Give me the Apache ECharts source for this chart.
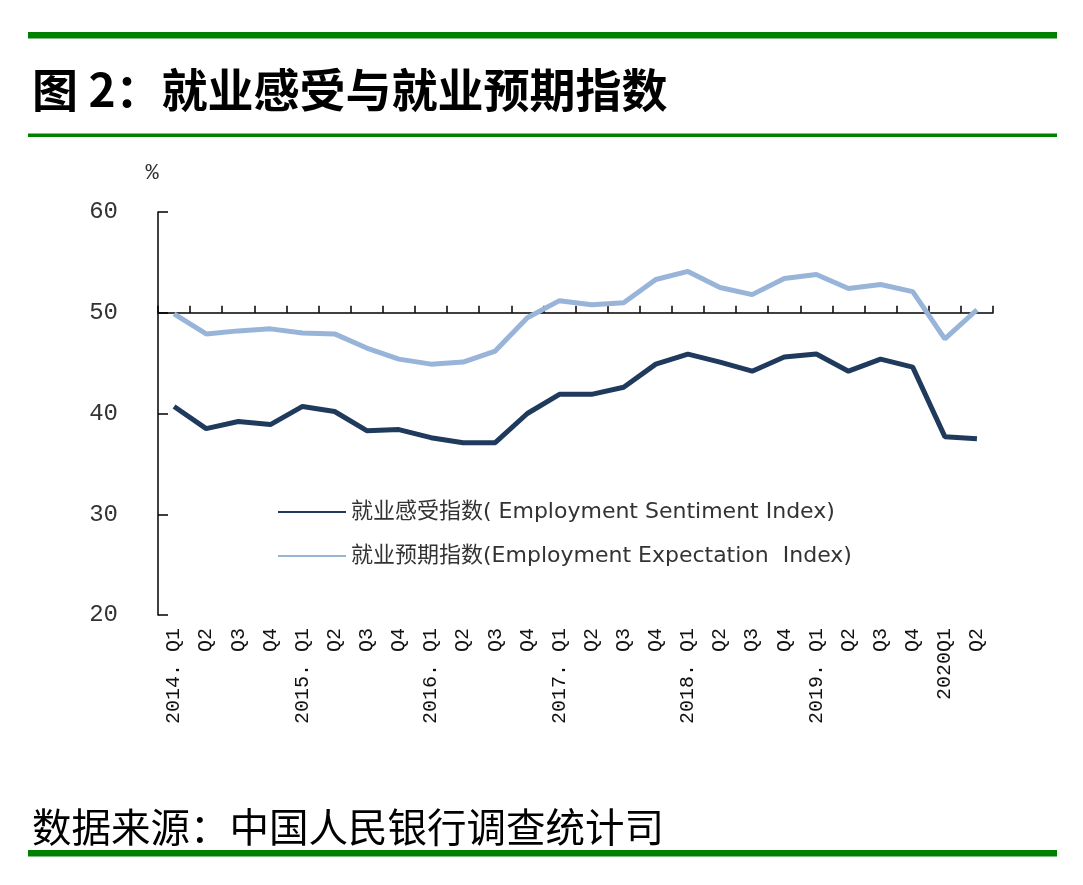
<!DOCTYPE html>
<html>
<head>
<meta charset="utf-8">
<script src="https://cdn.jsdelivr.net/npm/echarts@6/dist/echarts.min.js"></script>
<style>
html,body{margin:0;padding:0;background:#fff;}
#chart{width:1083px;height:885px;}
</style>
</head>
<body>
<div id="chart"></div>
<script>
// ---- data ----
const categories = [
  '2014. Q1','Q2','Q3','Q4',
  '2015. Q1','Q2','Q3','Q4',
  '2016. Q1','Q2','Q3','Q4',
  '2017. Q1','Q2','Q3','Q4',
  '2018. Q1','Q2','Q3','Q4',
  '2019. Q1','Q2','Q3','Q4',
  '2020Q1','Q2'
];
const sentimentName = '就业感受指数( Employment Sentiment Index)';
const expectationName = '就业预期指数(Employment Expectation  Index)';
const sentiment = [
  40.7, 38.5, 39.2, 38.9,
  40.7, 40.2, 38.3, 38.4,
  37.6, 37.1, 37.1, 40.0,
  41.9, 41.9, 42.6, 44.9,
  45.9, 45.1, 44.2, 45.6,
  45.9, 44.2, 45.4, 44.6,
  37.7, 37.5
];
const expectation = [
  49.9, 47.9, 48.2, 48.4,
  48.0, 47.9, 46.5, 45.4,
  44.9, 45.1, 46.2, 49.5,
  51.2, 50.8, 51.0, 53.3,
  54.1, 52.5, 51.8, 53.4,
  53.8, 52.4, 52.8, 52.1,
  47.4, 50.3
];
const yTicks = {min: 20, max: 60, interval: 10};
const refLevel = 50;

// ---- layout ----
const gridLeft = 158, gridTop = 212, gridWidth = 835, gridHeight = 403;
const refOffset = -gridHeight * (refLevel - yTicks.min) / (yTicks.max - yTicks.min);

const chart = echarts.init(document.getElementById('chart'));
const green = '#008000';
chart.setOption({
  backgroundColor: '#ffffff',
  animation: false,
  title: [
    {
      text: '图 2：就业感受与就业预期指数',
      left: 27, top: 62,
      textStyle: {fontFamily: 'Noto Sans CJK SC', fontSize: 46, fontWeight: 'bold', color: '#000'}
    },
    {
      text: '数据来源：中国人民银行调查统计司',
      left: 27, top: 802,
      textStyle: {fontFamily: 'Noto Sans CJK SC', fontSize: 39.5, fontWeight: 'normal', color: '#000'}
    }
  ],
  graphic: [
    {type: 'rect', shape: {x: 28, y: 32, width: 1029, height: 6.5}, style: {fill: green}, silent: true},
    {type: 'rect', shape: {x: 28, y: 133.5, width: 1029, height: 3.5}, style: {fill: green}, silent: true},
    {type: 'rect', shape: {x: 28, y: 850, width: 1029, height: 6.5}, style: {fill: green}, silent: true}
  ],
  legend: {
    orient: 'vertical',
    left: 273, top: 495,
    icon: 'rect',
    itemWidth: 68, itemHeight: 2,
    itemGap: 20,
    data: [sentimentName, expectationName],
    textStyle: {fontFamily: "'DejaVu Sans', 'Noto Sans CJK SC'", fontSize: 22, color: '#333', lineHeight: 24}
  },
  grid: {left: gridLeft, top: gridTop, width: gridWidth, height: gridHeight, containLabel: false},
  xAxis: [
    {
      type: 'category',
      data: categories,
      position: 'bottom',
      boundaryGap: true,
      axisLine: {show: false},
      axisTick: {show: false},
      axisLabel: {
        rotate: 90, margin: 13, interval: 0,
        fontFamily: 'Liberation Mono', fontSize: 20, color: '#111'
      },
      splitLine: {show: false}
    },
    {
      type: 'category',
      data: categories,
      position: 'bottom',
      offset: refOffset,
      boundaryGap: true,
      axisLine: {show: true, onZero: false, lineStyle: {color: '#000', width: 1.5}},
      axisTick: {show: true, inside: true, length: 7, interval: 0, lineStyle: {color: '#000', width: 1.5}},
      axisLabel: {show: false},
      splitLine: {show: false}
    }
  ],
  yAxis: {
    type: 'value',
    min: yTicks.min, max: yTicks.max, interval: yTicks.interval,
    name: '%',
    nameLocation: 'end',
    nameGap: 28,
    nameTextStyle: {fontFamily: 'Liberation Mono', fontSize: 22, color: '#333', padding: [0, 12, 0, 0]},
    axisLine: {show: true, lineStyle: {color: '#000', width: 1.5}},
    axisTick: {show: true, inside: true, length: 10, lineStyle: {color: '#000', width: 1.5}},
    axisLabel: {margin: 40, fontFamily: 'Liberation Mono', fontSize: 24, color: '#333'},
    splitLine: {show: false}
  },
  series: [
    {
      name: sentimentName,
      type: 'line',
      xAxisIndex: 0,
      data: sentiment,
      symbol: 'none',
      lineStyle: {color: '#1f3a5c', width: 5},
      itemStyle: {color: '#1f3a5c'}
    },
    {
      name: expectationName,
      type: 'line',
      xAxisIndex: 0,
      data: expectation,
      symbol: 'none',
      lineStyle: {color: '#98b4d8', width: 5},
      itemStyle: {color: '#98b4d8'}
    }
  ]
});
</script>
</body>
</html>
